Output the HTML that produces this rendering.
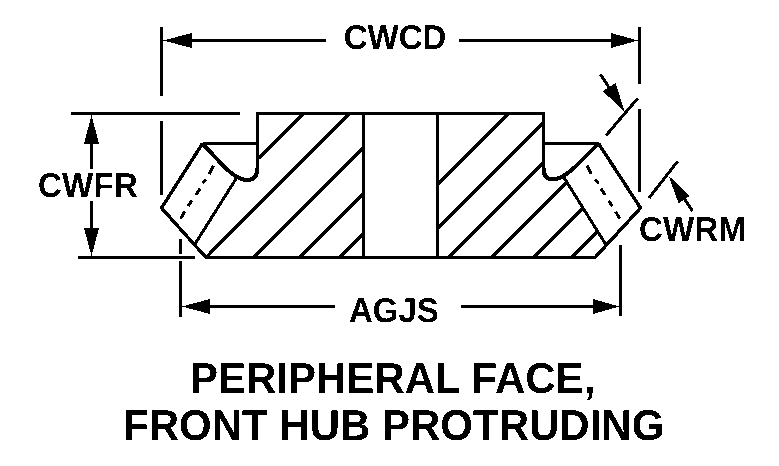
<!DOCTYPE html>
<html><head><meta charset="utf-8"><style>
html,body{margin:0;padding:0;background:#fff;width:779px;height:466px;overflow:hidden}
svg{display:block}
text{font-family:"Liberation Sans",sans-serif;font-weight:bold;fill:#000;text-rendering:geometricPrecision}
</style></head><body>
<svg width="779" height="466" viewBox="0 0 779 466" shape-rendering="crispEdges">
<rect width="779" height="466" fill="#fff"/>
<g fill="none" stroke="#000" stroke-width="3" stroke-linecap="butt" stroke-linejoin="miter">
<!-- CWCD dimension -->
<path d="M161.5 27V96M161.5 121V195"/>
<path d="M639.5 27V84M639.5 109V191.5"/>
<path d="M190 40.5H325.5M459 40.5H612"/>
<!-- CWFR dimension -->
<path d="M71 113.5H240M78 257.5H195"/>
<path d="M91.5 142V169M91.5 201V229"/>
<!-- AGJS dimension -->
<path d="M180.5 239V254M180.5 261V317"/>
<path d="M620.5 245V316"/>
<path d="M208 306.5H335M461 306.5H595"/>
<!-- gear body outline -->
<path d="M257.5 168V113.5H543.5V168"/>
<path d="M202.5 143.5H257.5M543.5 143.5H598.5"/>
<path d="M363.5 113.5V257.5M437.5 113.5V257.5"/>
<path d="M183.75 232.75L206 257.5H595L617.75 232.75"/>
<path d="M202.5 143.5L161.5 208L206 257.5" stroke-width="3.4"/>
<path d="M598.5 143.5L640.5 208L595 257.5" stroke-width="3.4"/>
<path d="M236.5 178L195 244"/>
<path d="M564 177.5L605.5 244"/>
<!-- hatching --><g stroke-width="3.5">
<path d="M258.5 158.5L303.5 113.5M349.5 113.5L206 257.5M363.5 147.5L253.5 257.5M363.5 193.5L299.5 257.5M363.5 233.5L339.5 257.5"/>
<path d="M508.5 113.5L437.5 184.5M543.5 122.5L437.5 228.5M543.5 162.5L448.5 257.5M566.9 182.1L491.5 257.5M583.0 208.0L533.5 257.5M597.6 231.4L571.5 257.5"/>
</g><!-- CWRM ext lines -->
<path d="M637.5 98.5L606 135.5M677.5 161.5L649 198"/>
<path d="M600.5 74.5L610 89M692.5 211L684 198"/>
</g>
<!-- curves (thicker) -->
<g fill="none" stroke="#000" stroke-width="4">
<path d="M257.5 168Q257.5 180 247 180C235.6 179.7 227.9 171.2 203 144"/>
<path d="M543.5 168Q543.5 179.5 553 179.5C566.5 178.4 578.6 163.3 598.5 143.5"/>
</g>
<!-- dashes -->
<g fill="none" stroke="#000" stroke-width="3">
<path d="M213.4 165.6L209.2 174M205.7 179.5L202.2 183M200.1 188.6L195.9 194.9M191.7 200.5L188.3 206M184.8 211.6L180.6 218.6"/>
<path d="M587.1 165.7L591.3 174M594.7 179.6L598.9 183.1M601 188.7L605.2 195M608.7 200.5L612.2 206.1M615.7 211.7L619.8 218.7"/>
</g>
<!-- arrowheads -->
<g fill="#000" stroke="none">
<path d="M163 40.5L192 33L192 48Z"/>
<path d="M638 40.5L611 33L611 48Z"/>
<path d="M91.5 115L84 144L99 144Z"/>
<path d="M91.5 256L84 228L99 228Z"/>
<path d="M182 306.5L210 299L210 314Z"/>
<path d="M619 306.5L593 299L593 314Z"/>
<path d="M625.3 113L603 91.1L615.4 83Z"/>
<path d="M668.6 175.7L678.6 203.4L689.8 195.8Z"/>
</g>
<defs><filter id="bin" color-interpolation-filters="sRGB"><feComponentTransfer><feFuncA type="discrete" tableValues="0 1"/></feComponentTransfer></filter></defs>
<!-- labels --><g filter="url(#bin)">
<text transform="translate(343.7 49) scale(1 1.045)" font-size="33">CWCD</text>
<text transform="translate(37.9 197) scale(1 1.045)" font-size="33" letter-spacing="0.3">CWFR</text>
<text transform="translate(349 322) scale(1 1.045)" font-size="33">AGJS</text>
<text transform="translate(638.9 241) scale(1 1.045)" font-size="33" letter-spacing="0.3">CWRM</text>
<text transform="translate(190 393) scale(1 1.03)" font-size="42">PERIPHERAL FACE,</text>
<text transform="translate(123 440) scale(1 1.03)" font-size="42">FRONT HUB PROTRUDING</text></g>
</svg>
</body></html>
